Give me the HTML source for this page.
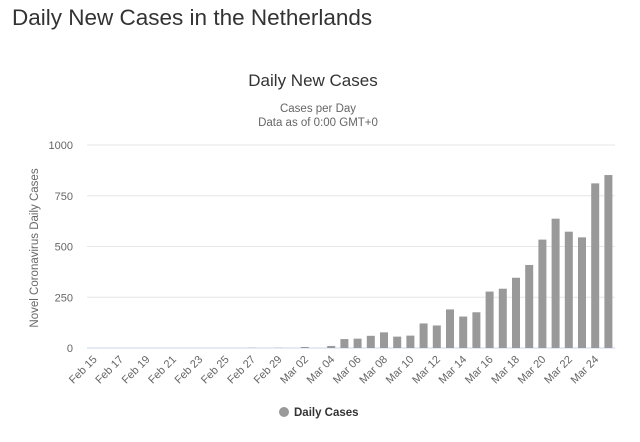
<!DOCTYPE html>
<html><head><meta charset="utf-8"><style>
body{margin:0;background:#fff;width:640px;height:442px;overflow:hidden;font-family:"Liberation Sans",sans-serif}
h1{position:absolute;left:12px;top:5px;margin:0;font-weight:normal;font-size:22.5px;color:#333}
</style></head><body>
<h1>Daily New Cases in the Netherlands</h1>
<svg id="chart" width="640" height="442" style="position:absolute;left:0;top:0" font-family="Liberation Sans, sans-serif"></svg>
<script>
const categories=["Feb 15","Feb 16","Feb 17","Feb 18","Feb 19","Feb 20","Feb 21","Feb 22","Feb 23","Feb 24","Feb 25","Feb 26","Feb 27","Feb 28","Feb 29","Mar 01","Mar 02","Mar 03","Mar 04","Mar 05","Mar 06","Mar 07","Mar 08","Mar 09","Mar 10","Mar 11","Mar 12","Mar 13","Mar 14","Mar 15","Mar 16","Mar 17","Mar 18","Mar 19","Mar 20","Mar 21","Mar 22","Mar 23","Mar 24","Mar 25"];
const dailyCases=[0,0,0,0,0,0,0,0,0,0,0,0,1,0,1,0,5,0,10,44,46,60,77,56,61,121,111,190,155,176,278,292,346,409,534,637,573,545,811,852];
const yTicks=[0,250,500,750,1000];
const xLabelEvery=2;
const NS="http://www.w3.org/2000/svg";
const svg=document.getElementById('chart');
const plotLeft=87,plotRight=615,plotTop=145,plotBottom=348,yMax=1000;
const step=(plotRight-plotLeft)/categories.length;
function xPos(i){return plotLeft+step*(i+0.5);}
function yPos(v){return plotBottom-(v/yMax)*(plotBottom-plotTop);}
function mk(tag,attrs,text){const e=document.createElementNS(NS,tag);for(const k in attrs)e.setAttribute(k,attrs[k]);if(text!==undefined)e.textContent=text;svg.appendChild(e);return e;}
let el;
el=mk('text',{x:313,y:86,'text-anchor':'middle','font-size':17,fill:'#333'},'Daily New Cases');


el=mk('text',{x:318,y:112,'text-anchor':'middle','font-size':11.5,fill:'#666'},'Cases per Day');


el=mk('text',{x:318,y:126,'text-anchor':'middle','font-size':11.5,fill:'#666'},'Data as of 0:00 GMT+0');


yTicks.forEach(t=>{
  const y=yPos(t);
  el=mk('line',{x1:plotLeft,x2:plotRight,y1:y,y2:y,stroke:t===0?'#ccd6eb':'#e6e6e6','stroke-width':1});
  
  
  el=mk('text',{x:73,y:y+4,'text-anchor':'end','font-size':11,fill:'#666'},String(t));
  
  
});
el=mk('text',{x:0,y:0,transform:'translate(38,248) rotate(-90)','text-anchor':'middle','font-size':11.5,fill:'#666'},'Novel Coronavirus Daily Cases');


dailyCases.forEach((v,i)=>{
  const y=yPos(v);
  el=mk('rect',{x:xPos(i)-4,y:y,width:8,height:plotBottom-y,fill:'#999999'});
  
  
});
categories.forEach((c,i)=>{
  if(i%xLabelEvery!==0)return;
  const x=xPos(i)+4,y=plotBottom+12;
  el=mk('text',{x:x,y:y,transform:`rotate(-45 ${x} ${y})`,'text-anchor':'end','font-size':11,fill:'#666'},c);
  
  
});
el=mk('circle',{cx:284,cy:412,r:5,fill:'#999999'});


el=mk('text',{x:294,y:416,'font-size':11.5,'font-weight':'bold',fill:'#333'},'Daily Cases');


</script>
</body></html>
